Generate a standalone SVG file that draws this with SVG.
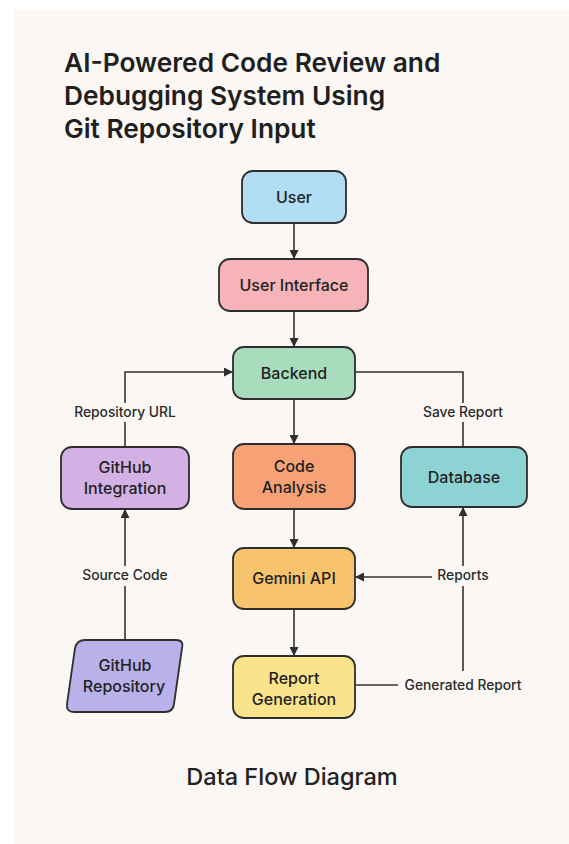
<svg xmlns="http://www.w3.org/2000/svg" width="569" height="844" viewBox="0 0 569 844">
<defs>
<marker id="arr" viewBox="0 0 10 10" refX="10" refY="5" markerWidth="9" markerHeight="9" markerUnits="userSpaceOnUse" orient="auto"><path d="M0,0 L10,5 L0,10 z" fill="#2e2e2e"/></marker>
<style>
.n{stroke:#2e2e2e;stroke-width:1.8}
.t{font-family:Inter,"Liberation Sans",sans-serif;font-size:16px;font-weight:500;fill:#222;text-anchor:middle}
.l{font-family:Inter,"Liberation Sans",sans-serif;font-size:13.8px;font-weight:500;fill:#2a2a2a;text-anchor:middle}
.c{fill:none;stroke:#333;stroke-width:1.6}
.h{font-family:Inter,"Liberation Sans",sans-serif;font-size:26.3px;font-weight:600;fill:#1f1f1f}
</style>
</defs>
<rect x="0" y="0" width="569" height="844" fill="#ffffff"/>
<rect x="14" y="10" width="555" height="834" fill="#faf7f4"/>
<g id="title">
<text class="h" x="64" y="72">AI-Powered Code Review and</text>
<text class="h" x="64" y="105">Debugging System Using</text>
<text class="h" x="64" y="138">Git Repository Input</text>
</g>
<g id="connectors">
<path class="c" d="M294,223 V259" marker-end="url(#arr)"/>
<path class="c" d="M294,311 V347" marker-end="url(#arr)"/>
<path class="c" d="M294,399 V444" marker-end="url(#arr)"/>
<path class="c" d="M294,509 V548" marker-end="url(#arr)"/>
<path class="c" d="M294,609 V656" marker-end="url(#arr)"/>
<path class="c" d="M125,403 V372 H233" marker-end="url(#arr)"/>
<path class="c" d="M125,447 V422"/>
<path class="c" d="M355,372 H463 V403"/>
<path class="c" d="M463,422 V447"/>
<path class="c" d="M125,640 V586"/>
<path class="c" d="M125,566 V509" marker-end="url(#arr)"/>
<path class="c" d="M355,685 H398"/>
<path class="c" d="M463,671 V586"/>
<path class="c" d="M463,566 V507" marker-end="url(#arr)"/>
<path class="c" d="M432,577 H355" marker-end="url(#arr)"/>
<text class="l" x="125" y="417">Repository URL</text>
<text class="l" x="463" y="417">Save Report</text>
<text class="l" x="125" y="580">Source Code</text>
<text class="l" x="463" y="580">Reports</text>
<text class="l" x="463" y="690">Generated Report</text>
</g>
<g id="user"><rect class="n" x="242" y="171" width="104" height="52" rx="11" fill="#b3dcf5"/><text class="t" x="294" y="203">User</text></g>
<g id="ui"><rect class="n" x="219" y="259" width="149" height="52" rx="11" fill="#f6b3b8"/><text class="t" x="294" y="291">User Interface</text></g>
<g id="backend"><rect class="n" x="233" y="347" width="122" height="52" rx="11" fill="#a9dcbd"/><text class="t" x="294" y="379">Backend</text></g>
<g id="code-analysis"><rect class="n" x="233" y="444" width="122" height="65" rx="11" fill="#f7a276"/><text class="t" x="294" y="472">Code</text><text class="t" x="294" y="493">Analysis</text></g>
<g id="github-integration"><rect class="n" x="61" y="447" width="128" height="62" rx="11" fill="#d4b1e5"/><text class="t" x="125" y="473">GitHub</text><text class="t" x="125" y="494">Integration</text></g>
<g id="database"><rect class="n" x="401" y="447" width="126" height="60" rx="11" fill="#8ed3d3"/><text class="t" x="464" y="483">Database</text></g>
<g id="gemini"><rect class="n" x="233" y="548" width="122" height="61" rx="11" fill="#f7c46d"/><text class="t" x="294" y="584">Gemini API</text></g>
<g id="report-generation"><rect class="n" x="233" y="656" width="122" height="62" rx="11" fill="#fbe38c"/><text class="t" x="294" y="684">Report</text><text class="t" x="294" y="705">Generation</text></g>
<g id="github-repository"><path class="n" d="M85,640 H176 Q184,640 182,648 L174,704 Q173,712 165,712 H74 Q66,712 67,704 L75,648 Q77,640 85,640 Z" fill="#b8b1ea"/><text class="t" x="125" y="671">GitHub</text><text class="t" x="124" y="692">Repository</text></g>
<g id="footer"><text x="292" y="785" style="font-family:Inter,'Liberation Sans',sans-serif;font-size:23.5px;font-weight:500;fill:#222;text-anchor:middle">Data Flow Diagram</text></g>
</svg>
